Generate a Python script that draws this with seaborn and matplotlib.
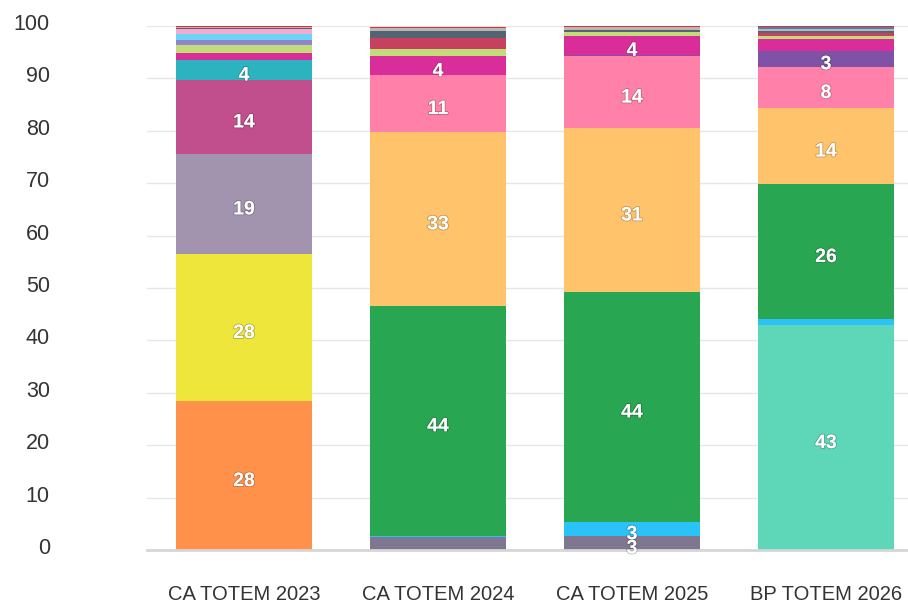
import pandas as pd
import matplotlib
matplotlib.use("Agg")
import matplotlib.pyplot as plt
import matplotlib.patheffects as pe
from matplotlib.transforms import ScaledTranslation
import seaborn as sns

categories = ["CA TOTEM 2023", "CA TOTEM 2024", "CA TOTEM 2025", "BP TOTEM 2026"]

# shares (%) per category, listed from the bottom of the stack to the top
grey_violet = [0, 2.5, 2.7, 0]
orange = [28.4, 0, 0, 0]
aqua = [0, 0, 0, 42.9]
cyan = [0, 0.2, 2.7, 1.1]
green = [0, 43.9, 43.8, 25.9]
yellow = [28.1, 0, 0, 0]
light_orange = [0, 33.2, 31.4, 14.4]
lavender = [19.1, 0, 0, 0]
plum = [14.1, 0, 0, 0]
pink = [0, 10.8, 13.6, 7.9]
teal = [3.8, 0, 0, 0]
purple = [0, 0, 0.3, 3.1]
magenta = [1.4, 3.6, 3.6, 2.3]
lime = [1.5, 1.5, 0.8, 0.4]
crimson = [0, 2.1, 0, 0.6]
periwinkle = [1.0, 0, 0, 0]
sky = [1.0, 0, 0, 0]
rose = [1.0, 0, 0, 0]
slate = [0.3, 1.3, 0.3, 0.5]
grey = [0.2, 0.6, 0.6, 0.3]
blue = [0, 0, 0, 0.5]
red = [0.1, 0.2, 0.2, 0.1]

series_names = ["grey_violet", "orange", "aqua", "cyan", "green", "yellow",
                "light_orange", "lavender", "plum", "pink", "teal", "purple",
                "magenta", "lime", "crimson", "periwinkle", "sky", "rose",
                "slate", "grey", "blue", "red"]
series_values = [grey_violet, orange, aqua, cyan, green, yellow,
                 light_orange, lavender, plum, pink, teal, purple,
                 magenta, lime, crimson, periwinkle, sky, rose,
                 slate, grey, blue, red]

colors = {
    "grey_violet": "#7F778F", "orange": "#FF914A", "aqua": "#5ED7B9",
    "cyan": "#2AC2F8", "green": "#28A652", "yellow": "#EEE63A",
    "light_orange": "#FFC46B", "lavender": "#A294AE", "plum": "#C14E8D",
    "pink": "#FF80A8", "teal": "#2BB4BF", "purple": "#7F52A8",
    "magenta": "#D92E99", "lime": "#C2DC7A", "crimson": "#C7405F",
    "periwinkle": "#9085CA", "sky": "#6FD3F7", "rose": "#F3AAD3",
    "slate": "#546470", "grey": "#B8B8B8", "blue": "#4C7EC0", "red": "#E32C2C",
}

rows = []
for name, vals in zip(series_names, series_values):
    for cat, v in zip(categories, vals):
        rows.append({"category": cat, "series": name, "value": v})
df = pd.DataFrame(rows)

sns.set_theme(style="white")
plt.rcParams["font.family"] = ["Liberation Sans", "DejaVu Sans"]

fig = plt.figure(figsize=(9.08, 6.03), dpi=100)
ax = fig.add_axes([147 / 908, 53 / 603, 776 / 908, 524 / 603])

# seaborn stacks the last hue level at the bottom
sns.histplot(data=df, x="category", weights="value", hue="series",
             hue_order=series_names[::-1], palette=colors, multiple="stack",
             discrete=True, shrink=0.7, alpha=1, linewidth=0, legend=False,
             ax=ax)

ax.set_xlim(-0.5, 3.5)
ax.set_ylim(0, 100)
ax.set_xlabel("")
ax.set_ylabel("")
ax.set_yticks(range(0, 101, 10))
ax.yaxis.grid(True, color="#e6e6e6", linewidth=1)
ax.set_axisbelow(True)
ax.tick_params(axis="y", length=0, pad=70, labelsize=15.5, labelcolor="#333333")
for lab in ax.get_yticklabels():
    lab.set_transform(lab.get_transform() + ScaledTranslation(0, 4 / 100, fig.dpi_scale_trans))
ax.set_xticks(range(len(categories)), categories)
ax.set_xticks([-0.5, 0.5, 1.5, 2.5, 3.5], minor=True)
ax.tick_params(axis="x", which="major", length=0, pad=25, labelsize=14.5,
               labelcolor="#333333")
ax.tick_params(axis="x", which="minor", length=11, width=1.2, color="#d6d6d6",
               direction="out")
for s in ["top", "right", "left"]:
    ax.spines[s].set_visible(False)
ax.spines["bottom"].set_color("#d6d6d6")
ax.spines["bottom"].set_linewidth(2)

# value labels on the larger segments
for i, cat in enumerate(categories):
    base = 0
    for vals in series_values:
        v = vals[i]
        if v >= 2.6:
            ax.annotate(f"{round(v)}", (i, base + v / 2), xytext=(0, -4.3),
                        textcoords="offset points", ha="center", va="center",
                        color="white", fontsize=14, fontweight="bold",
                        path_effects=[pe.withStroke(linewidth=1.2,
                                                    foreground=(0, 0, 0, 0.25))])
        base += v

fig.savefig("out.png", dpi=100)
